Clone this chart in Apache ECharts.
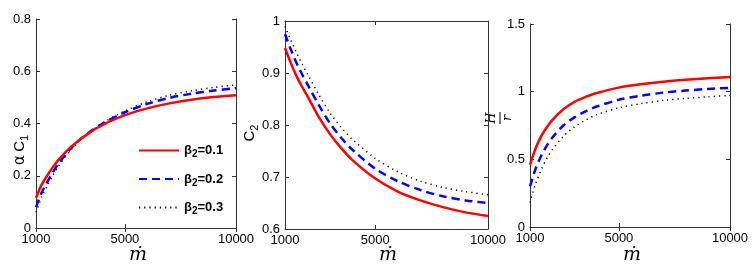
<!DOCTYPE html>
<html><head><meta charset="utf-8">
<script src="https://cdn.jsdelivr.net/npm/echarts@6/dist/echarts.min.js"></script>
<style>html,body{margin:0;padding:0;background:#fff}#c{width:752px;height:278px}</style>
</head><body><div id="c"></div>
<script>
const mdot = [1000,1250,1500,1750,2000,2500,3000,3500,4000,5000,6000,7000,8000,9000,10000];
const xTicks = [1000,5000,10000];
const seriesNames = ['β2=0.1','β2=0.2','β2=0.3'];
// Panel 1: alpha C1
const c1_b01 = [0.115,0.165,0.200,0.232,0.260,0.305,0.340,0.370,0.395,0.432,0.458,0.477,0.491,0.501,0.508];
const c1_b02 = [0.080,0.135,0.175,0.212,0.245,0.298,0.340,0.373,0.400,0.443,0.475,0.498,0.514,0.526,0.535];
const c1_b03 = [0.060,0.118,0.160,0.200,0.235,0.292,0.337,0.372,0.402,0.448,0.483,0.508,0.525,0.538,0.548];
const c1Ticks = [0,0.2,0.4,0.6,0.8];
// Panel 2: C2
const c2_b01 = [0.948,0.920,0.895,0.874,0.855,0.815,0.782,0.755,0.732,0.697,0.672,0.655,0.642,0.632,0.625];
const c2_b02 = [0.975,0.946,0.920,0.898,0.878,0.838,0.803,0.775,0.752,0.716,0.692,0.675,0.663,0.655,0.650];
const c2_b03 = [0.990,0.964,0.940,0.918,0.898,0.858,0.823,0.795,0.772,0.736,0.710,0.692,0.680,0.672,0.666];
const c2Ticks = [0.6,0.7,0.8,0.9,1];
// Panel 3: H/r
const h_b01 = [0.46,0.58,0.67,0.735,0.79,0.87,0.925,0.962,0.99,1.03,1.055,1.074,1.088,1.099,1.108];
const h_b02 = [0.30,0.43,0.525,0.60,0.66,0.75,0.81,0.855,0.89,0.94,0.97,0.993,1.008,1.02,1.028];
const h_b03 = [0.18,0.32,0.42,0.505,0.57,0.67,0.74,0.79,0.83,0.88,0.912,0.935,0.95,0.962,0.972];
const hTicks = [0,0.5,1,1.5];

const pair = arr => arr.map((v,i)=>[mdot[i],v]);
const FONT = 'Liberation Sans';
const AX = '#333';
const grids = [
  {left:36, top:19, width:200, height:209},
  {left:285, top:21, width:203, height:208},
  {left:530, top:24, width:200, height:203}
];
const yDefs = [
  {min:0,max:0.8,ticks:c1Ticks},
  {min:0.6,max:1,ticks:c2Ticks},
  {min:0,max:1.5,ticks:hTicks}
];
const data = [[c1_b01,c1_b02,c1_b03],[c2_b01,c2_b02,c2_b03],[h_b01,h_b02,h_b03]];
const styles = [
  {color:'#ff0000', width:2.5, type:'solid'},
  {color:'#0000ff', width:2.5, type:[8,5]},
  {color:'#000000', width:1.5, type:[1.2,4]}
];
const xAxis=[], yAxis=[], series=[];
grids.forEach((g,gi)=>{
  xAxis.push({type:'value',gridIndex:gi,min:1000,max:10000,position:'bottom',
    axisLine:{show:true,lineStyle:{color:AX,width:1}},
    axisTick:{show:true,inside:true,length:4,customValues:xTicks,lineStyle:{color:AX}},
    axisLabel:{customValues:xTicks,formatter:v=>String(v),color:'#000',fontFamily:FONT,fontSize:13,margin:5},
    splitLine:{show:false}});
  xAxis.push({type:'value',gridIndex:gi,min:1000,max:10000,position:'top',
    axisLine:{show:true,lineStyle:{color:AX,width:1}},
    axisTick:{show:true,inside:true,length:4,customValues:xTicks,lineStyle:{color:AX}},
    axisLabel:{show:false},splitLine:{show:false}});
  const yd=yDefs[gi];
  yAxis.push({type:'value',gridIndex:gi,min:yd.min,max:yd.max,position:'left',
    axisLine:{show:true,lineStyle:{color:AX,width:1}},
    axisTick:{show:true,inside:true,length:4,customValues:yd.ticks,lineStyle:{color:AX}},
    axisLabel:{customValues:yd.ticks,formatter:v=>String(v),color:'#000',fontFamily:FONT,fontSize:13,margin:5},
    splitLine:{show:false}});
  yAxis.push({type:'value',gridIndex:gi,min:yd.min,max:yd.max,position:'right',
    axisLine:{show:true,lineStyle:{color:AX,width:1}},
    axisTick:{show:true,inside:true,length:4,customValues:yd.ticks,lineStyle:{color:AX}},
    axisLabel:{show:false},splitLine:{show:false}});
  data[gi].forEach((arr,si)=>{
    series.push({type:'line',name:seriesNames[si],xAxisIndex:gi*2,yAxisIndex:gi*2,
      data:pair(arr),smooth:0.3,symbol:'none',silent:true,animation:false,
      itemStyle:{color:styles[si].color},
      lineStyle:styles[si],z:3-si});
  });
});
const chart = echarts.init(document.getElementById('c'),null,{renderer:'canvas'});
const mText = (cx)=>({type:'text',left:cx-7,top:246,style:{text:'ṁ',font:'italic 19px "DejaVu Serif"',fill:'#000'}});
chart.setOption({
  animation:false,
  grid:grids.map(g=>Object.assign({containLabel:false},g)),
  xAxis, yAxis, series,
  legend:{show:true,orient:'vertical',left:133,top:139,itemWidth:40,itemHeight:14,itemGap:13,
    data:seriesNames,selectedMode:false,itemStyle:{opacity:0},
    formatter:n=>{const v=n.split('=')[1];return '{b|β}{s|2}{b|='+v+'}';},
    textStyle:{color:'#000',fontFamily:FONT,fontSize:13,fontWeight:'bold',
      rich:{b:{fontFamily:FONT,fontSize:13,fontWeight:'bold',color:'#000'},
            s:{fontFamily:FONT,fontSize:10,fontWeight:'bold',color:'#000',verticalAlign:'bottom',padding:[8,0,0,0]}}}},
  graphic:[
    mText(136), mText(386), mText(630),
    {type:'text',x:20,y:150,rotation:Math.PI/2,
      style:{text:'{a|α} {c|C}{s|1}',align:'center',verticalAlign:'middle',
        rich:{a:{font:'15px "DejaVu Sans"',fill:'#000'},c:{font:'15px "Liberation Sans"',fill:'#000'},
              s:{font:'11px "Liberation Sans"',fill:'#000',padding:[10,0,0,0]}}}},
    {type:'text',x:250,y:133,rotation:Math.PI/2,
      style:{text:'{c|C}{s|2}',align:'center',verticalAlign:'middle',
        rich:{c:{font:'15px "Liberation Sans"',fill:'#000'},s:{font:'11px "Liberation Sans"',fill:'#000',padding:[10,0,0,0]}}}},
    {type:'group',x:503,y:118,rotation:Math.PI/2,children:[
      {type:'text',x:0,y:-5,style:{text:'H',font:'italic 13px "DejaVu Serif"',fill:'#000',align:'center',verticalAlign:'bottom'}},
      {type:'line',shape:{x1:-6,y1:-3,x2:6,y2:-3},style:{stroke:'#000',lineWidth:1}},
      {type:'text',x:0,y:-2,style:{text:'r',font:'italic 13px "DejaVu Serif"',fill:'#000',align:'center',verticalAlign:'top'}}
    ]}
  ]
});
</script></body></html>
